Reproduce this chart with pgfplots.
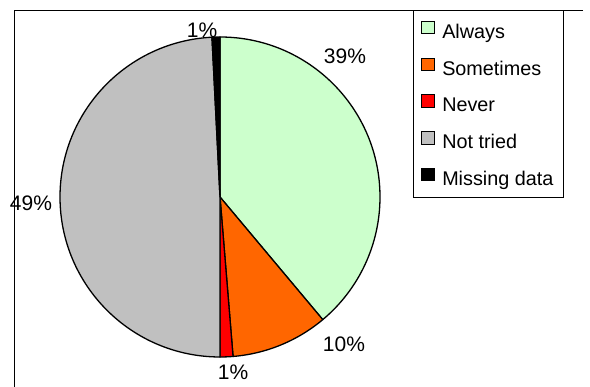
\documentclass[border=0pt]{standalone}
\usepackage{pgfplots}
\pgfplotsset{compat=1.18}
\usepackage{pgfplotstable}
\usepackage{fontspec}
\setmainfont{Liberation Sans}
\definecolor{alw}{HTML}{CCFFCC}
\definecolor{som}{HTML}{FF6600}
\definecolor{nev}{HTML}{FF0000}
\definecolor{not}{HTML}{C0C0C0}
\definecolor{mis}{HTML}{000000}
\pgfplotstableread{
label value color
Always 38.9 alw
Sometimes 9.8 som
Never 1.3 nev
Nottried 49.2 not
Missing 0.8 mis
}\piedata
\newcommand{\lblfont}{\fontsize{19.8}{22}\selectfont}
\newcommand{\pctfont}{\fontsize{21}{24}\selectfont}
\begin{document}
\begin{tikzpicture}
\begin{axis}[
  x=1pt, y=1pt,
  xmin=0, xmax=590, ymin=0, ymax=387,
  hide axis, clip=false,
  legend style={at={(axis cs:413,377)}, anchor=north west, draw=black, line width=0.8pt,
    font=\lblfont, inner xsep=8pt, inner ysep=10.5pt, row sep=17.3pt,
    nodes={text height=14pt, text depth=0pt, inner sep=2pt}},
  legend cell align=left,
  legend image code/.code={\filldraw[#1, draw=black, line width=0.9pt] (0pt,-2.5pt) rectangle (12.5pt,10pt); \path (18pt,0pt);},
]
\addlegendimage{fill=alw}\addlegendentry{Always}
\addlegendimage{fill=som}\addlegendentry{Sometimes}
\addlegendimage{fill=nev}\addlegendentry{Never}
\addlegendimage{fill=not}\addlegendentry{Not tried}
\addlegendimage{fill=mis}\addlegendentry{Missing data}
% frame
\draw[line width=0.8pt] (axis cs:583,377) -- (axis cs:14,377) -- (axis cs:14,0);
% pie slices
\pgfmathsetmacro\startang{90}
\pgfplotsforeachungrouped \i in {0,...,4}{%
  \pgfplotstablegetelem{\i}{value}\of\piedata \let\v\pgfplotsretval
  \pgfplotstablegetelem{\i}{color}\of\piedata \let\c\pgfplotsretval
  \pgfmathsetmacro\endang{\startang - 3.6*\v}%
  \edef\temp{\noexpand\filldraw[fill=\c, draw=black, line width=1.3pt, line join=round]
    (axis cs:220,190) -- ++(\startang:160pt) arc[start angle=\startang, end angle=\endang, radius=160pt] -- cycle;}%
  \temp
  \global\let\startang\endang
}
% labels
\node[font=\pctfont, inner sep=0pt] at (axis cs:345,331) {39\%};
\node[font=\pctfont, inner sep=0pt] at (axis cs:344,43) {10\%};
\node[font=\pctfont, inner sep=0pt] at (axis cs:233,15) {1\%};
\node[font=\pctfont, inner sep=0pt] at (axis cs:31,184) {49\%};
\node[font=\pctfont, inner sep=0pt] at (axis cs:202,357) {1\%};
\end{axis}
\pgfresetboundingbox
\path[use as bounding box] (0,0) rectangle (590pt,387pt);
\end{tikzpicture}
\end{document}
